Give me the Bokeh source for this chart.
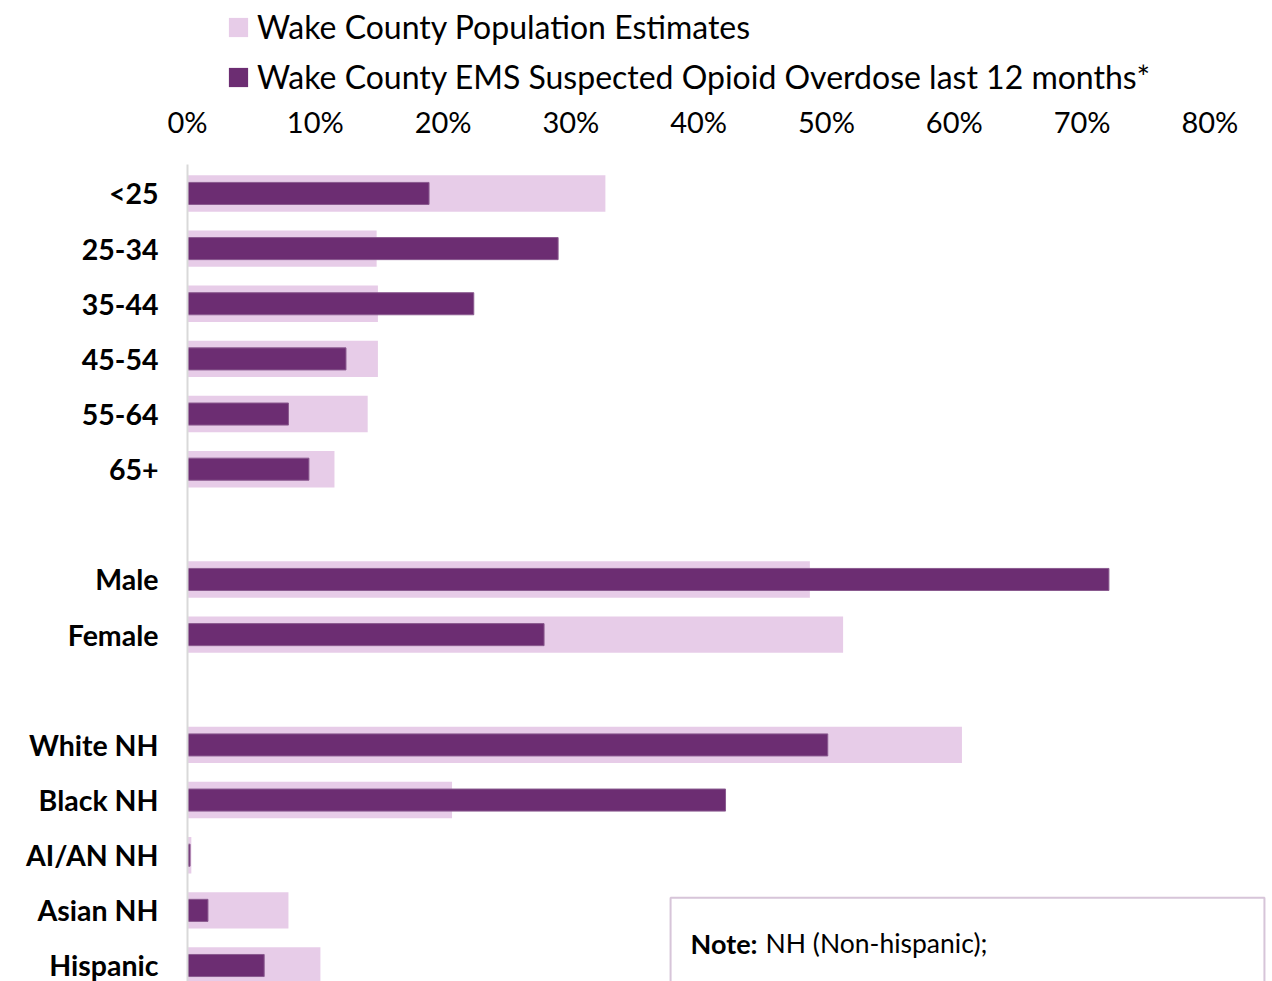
from bokeh.plotting import figure
from bokeh.layouts import column
from bokeh.models import (Range1d, FixedTicker, Legend, LegendItem,
                          BoxAnnotation, Label, ColumnDataSource)
from bokeh.embed import file_html
from bokeh.resources import INLINE

FONT = "Lato"

# ---- data (percent of group) ----
age_groups = ["<25", "25-34", "35-44", "45-54", "55-64", "65+"]
age_pop = [32.7, 14.8, 14.9, 14.9, 14.1, 11.5]
age_ems = [18.9, 29.0, 22.4, 12.4, 7.9, 9.5]

sex_groups = ["Male", "Female"]
sex_pop = [48.7, 51.3]
sex_ems = [72.1, 27.9]

race_groups = ["White NH", "Black NH", "AI/AN NH", "Asian NH", "Hispanic"]
race_pop = [60.6, 20.7, 0.3, 7.9, 10.4]
race_ems = [50.1, 42.1, 0.2, 1.6, 6.0]

x_ticks = [0, 10, 20, 30, 40, 50, 60, 70, 80]

pop_label = "Wake County Population Estimates"
ems_label = "Wake County EMS Suspected Opioid Overdose last 12 months*"

POP_COLOR = "#E7CCE8"
EMS_COLOR = "#6C2D72"
EMS_EDGE = "#8A5A8F"

# build rows, with one empty row between groups
labels, pops, emss, ypos = [], [], [], []
row = 0
for gi, (g, pv, ev) in enumerate([(age_groups, age_pop, age_ems),
                                  (sex_groups, sex_pop, sex_ems),
                                  (race_groups, race_pop, race_ems)]):
    if gi > 0:
        row += 1
    for name, a, b in zip(g, pv, ev):
        labels.append(name)
        pops.append(a)
        emss.append(b)
        ypos.append(row)
        row += 1

src = ColumnDataSource(dict(y=ypos, pop=pops, ems=emss, label=labels))

W = 1272
TOP_H = 100
MAIN_H = 881

# ---- legend strip (its frame is aligned with the chart's frame) ----
lg = figure(width=W, height=TOP_H, output_backend="svg", toolbar_location=None,
            x_range=Range1d(0, 1), y_range=Range1d(100, 101),
            min_border=0, x_axis_type=None, y_axis_type=None)
lg.outline_line_color = None
lg.grid.grid_line_color = None
lp = lg.hbar(y="y", right="pop", left=0, height=0.66, source=src,
             fill_color=POP_COLOR, line_color=None)
le = lg.hbar(y="y", right="ems", left=0, height=0.40, source=src,
             fill_color=EMS_COLOR, line_color=None)
legend = Legend(items=[LegendItem(label=pop_label, renderers=[lp]),
                       LegendItem(label=ems_label, renderers=[le])],
                location=(39, 4), orientation="vertical",
                glyph_width=24, glyph_height=24, label_standoff=7,
                label_text_font=FONT, label_text_font_size="32px",
                label_text_color="#000000", label_height=36, spacing=11,
                padding=0, margin=0, border_line_color=None,
                background_fill_alpha=0)
lg.add_layout(legend)

# ---- main chart ----
p = figure(width=W, height=MAIN_H, output_backend="svg", toolbar_location=None,
           x_axis_location="above",
           x_range=Range1d(0, 84.9), y_range=Range1d(14.29, -0.525),
           min_border_left=187, min_border_right=0, min_border_top=63,
           min_border_bottom=0)
p.outline_line_color = None
p.grid.grid_line_color = None
p.background_fill_color = "white"
p.border_fill_color = "white"

p.hbar(y="y", right="pop", left=0, height=0.66, source=src,
       fill_color=POP_COLOR, line_color=None)
p.hbar(y="y", right="ems", left=0, height=0.40, source=src,
       fill_color=EMS_COLOR, line_color=EMS_EDGE, line_width=1)

# x axis (top)
xa = p.xaxis[0]
xa.ticker = FixedTicker(ticks=x_ticks)
xa.major_label_overrides = {t: f"{t}%" for t in x_ticks}
xa.axis_line_color = None
xa.major_tick_line_color = None
xa.minor_tick_line_color = None
xa.major_label_text_font = FONT
xa.major_label_text_font_size = "29px"
xa.major_label_text_color = "#000000"
xa.major_label_standoff = 20

# y axis (categories)
ya = p.yaxis[0]
ya.ticker = FixedTicker(ticks=ypos)
ya.major_label_overrides = {y: l for y, l in zip(ypos, labels)}
ya.axis_line_color = "#D9D9D9"
ya.axis_line_width = 2
ya.major_tick_line_color = None
ya.minor_tick_line_color = None
ya.major_label_text_font = FONT
ya.major_label_text_font_style = "bold"
ya.major_label_text_font_size = "28.5px"
ya.major_label_text_color = "#000000"
ya.major_label_standoff = 23

# note box
note_box = BoxAnnotation(left=37.8, right=84.27, top=12.77, bottom=15.0,
                         fill_color="white", fill_alpha=1.0,
                         line_color="#7B3F82", line_width=2)
p.add_layout(note_box)
p.add_layout(Label(x=37.8, y=13.6, x_offset=20, text="Note:", text_font=FONT,
                   text_font_style="bold", text_font_size="27px",
                   text_color="#000000", text_baseline="middle"))
p.add_layout(Label(x=37.8, y=13.6, x_offset=95, text="NH (Non-hispanic);", text_font=FONT,
                   text_font_size="26.5px", text_color="#000000",
                   text_baseline="middle"))

layout = column(lg, p, spacing=0)
open("out.html", "w").write(file_html(layout, INLINE))
